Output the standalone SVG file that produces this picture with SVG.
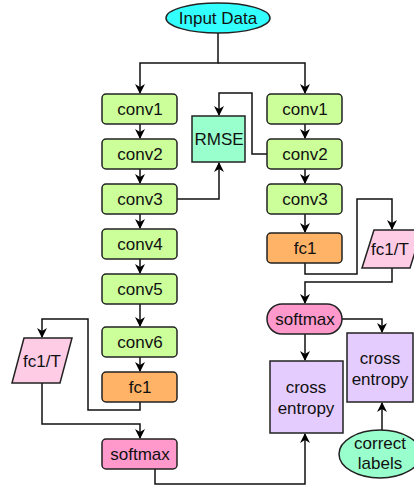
<svg xmlns="http://www.w3.org/2000/svg" width="414" height="487" viewBox="0 0 414 487">
<defs>
<marker id="ah" viewBox="0 0 10 10" refX="9" refY="5" markerWidth="10" markerHeight="10" markerUnits="userSpaceOnUse" orient="auto">
<path d="M0,0 L10,5 L0,10 L3,5 Z" fill="#000"/>
</marker>
<style>
.n{stroke:#222;stroke-width:1.5}
.conv{fill:#ccff99}
.fc{fill:#ffb366}
.fct{fill:#ffcce6}
.sm{fill:#ff99cc}
.ce{fill:#e5ccff}
.mint{fill:#99ffcc}
text{font-family:"Liberation Sans",Arial,sans-serif;font-size:17px;fill:#111;text-anchor:middle}
.e path{fill:none;stroke:#111;stroke-width:1.5;marker-end:url(#ah)}
</style>
</defs>
<rect width="414" height="487" fill="#fff"/>
<g class="e" id="connectors">
<path d="M218,33 V63 H140 V93"/>
<path d="M218,63 H305 V93"/>
<path d="M140,124 V138"/>
<path d="M140,169 V183"/>
<path d="M140,214 V228"/>
<path d="M140,259 V273"/>
<path d="M140,304 V326"/>
<path d="M140,357 V371"/>
<path d="M305,124 V138"/>
<path d="M305,169 V183"/>
<path d="M305,214 V232"/>
<path d="M177,199 H219 V163"/>
<path d="M267,154 H252 V93 H219 V115"/>
<path d="M140,402 V410 H88 V319 H42 V337"/>
<path d="M42,383 V424 H140 V438"/>
<path d="M155,469 V484 H305 V434"/>
<path d="M305,263 V274 H357 V199 H392 V229"/>
<path d="M392,268 V282 H305 V303"/>
<path d="M305,334 V360"/>
<path d="M342,319 H382 V332"/>
<path d="M382,430 V403"/>
</g>
<g id="input"><ellipse class="n" cx="218" cy="18" rx="52" ry="15" fill="#33ffff"/><text x="218" y="24">Input Data</text></g>
<g id="l-conv1"><rect class="n conv" x="102" y="94" width="75" height="30" rx="4"/><text x="140" y="115">conv1</text></g>
<g id="l-conv2"><rect class="n conv" x="102" y="139" width="75" height="30" rx="4"/><text x="140" y="160">conv2</text></g>
<g id="l-conv3"><rect class="n conv" x="102" y="184" width="75" height="30" rx="4"/><text x="140" y="205">conv3</text></g>
<g id="l-conv4"><rect class="n conv" x="102" y="229" width="75" height="30" rx="4"/><text x="140" y="250">conv4</text></g>
<g id="l-conv5"><rect class="n conv" x="102" y="274" width="75" height="30" rx="4"/><text x="140" y="295">conv5</text></g>
<g id="l-conv6"><rect class="n conv" x="102" y="327" width="75" height="30" rx="4"/><text x="140" y="348">conv6</text></g>
<g id="l-fc1"><rect class="n fc" x="102" y="372" width="75" height="30" rx="4"/><text x="140" y="393">fc1</text></g>
<g id="l-fct"><polygon class="n fct" points="24,338 72,338 60,383 12,383"/><text x="42" y="367">fc1/T</text></g>
<g id="l-softmax"><rect class="n sm" x="102" y="439" width="75" height="30" rx="4"/><text x="140" y="460">softmax</text></g>
<g id="rmse"><rect class="n mint" x="192" y="116" width="53" height="46"/><text x="219" y="145">RMSE</text></g>
<g id="r-conv1"><rect class="n conv" x="267" y="94" width="75" height="30" rx="4"/><text x="305" y="115">conv1</text></g>
<g id="r-conv2"><rect class="n conv" x="267" y="139" width="75" height="30" rx="4"/><text x="305" y="160">conv2</text></g>
<g id="r-conv3"><rect class="n conv" x="267" y="184" width="75" height="30" rx="4"/><text x="305" y="205">conv3</text></g>
<g id="r-fc1"><rect class="n fc" x="267" y="233" width="75" height="30" rx="4"/><text x="305" y="254">fc1</text></g>
<g id="r-fct"><polygon class="n fct" points="374,230 422,230 410,268 362,268"/><text x="390" y="255">fc1/T</text></g>
<g id="r-softmax"><rect class="n sm" x="267" y="304" width="75" height="30" rx="15"/><text x="305" y="325">softmax</text></g>
<g id="ce1"><rect class="n ce" x="270" y="361" width="73" height="72"/><text x="306" y="393">cross</text><text x="306" y="414">entropy</text></g>
<g id="ce2"><rect class="n ce" x="347" y="333" width="66" height="69"/><text x="380" y="364">cross</text><text x="380" y="385">entropy</text></g>
<g id="labels"><ellipse class="n mint" cx="380" cy="454" rx="41" ry="24"/><text x="380" y="449">correct</text><text x="380" y="469">labels</text></g>
</svg>
